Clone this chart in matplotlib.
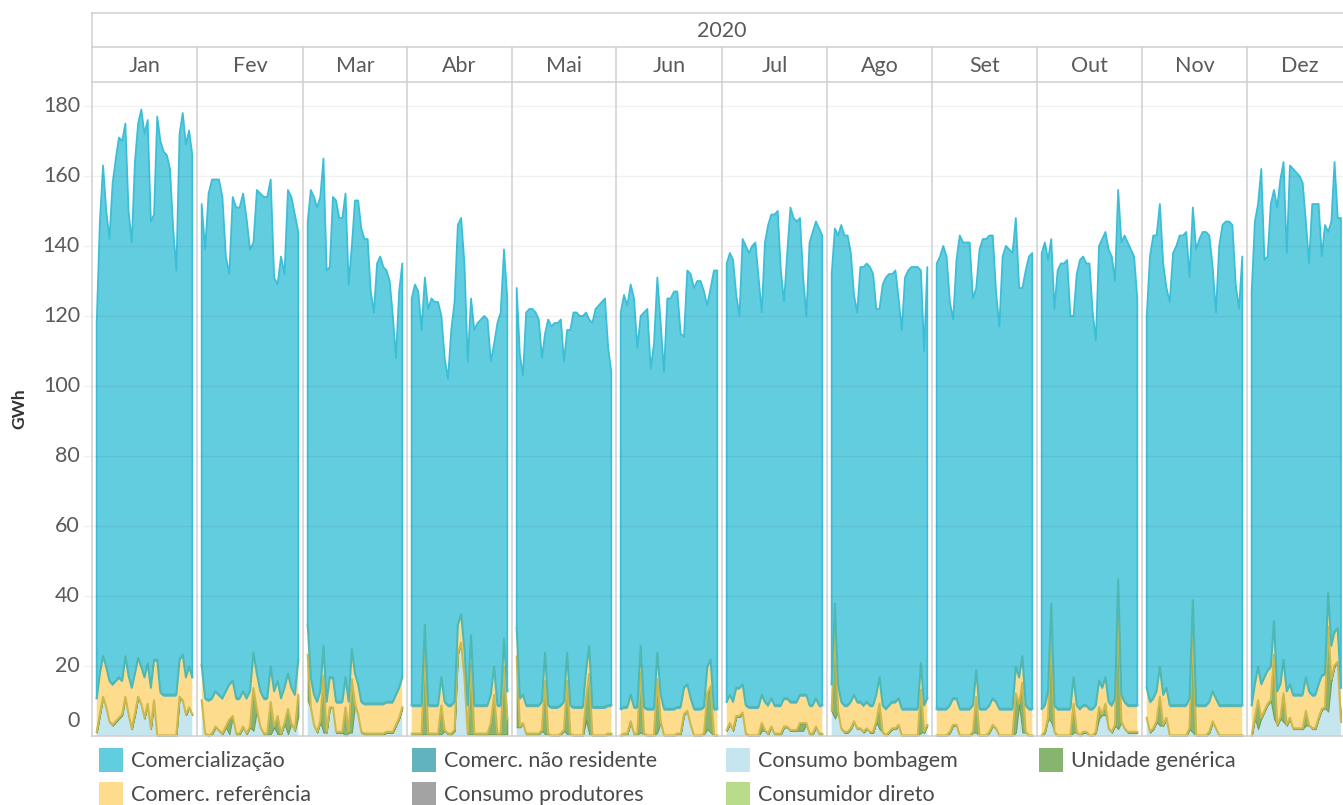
import matplotlib
matplotlib.use("Agg")
import matplotlib.pyplot as plt
from matplotlib.lines import Line2D
from matplotlib.patches import Rectangle
import numpy as np

plt.rcParams['font.family'] = ['Lato', 'DejaVu Sans']

# ---------------- data ----------------
year_label = "2020"
months = ["Jan", "Fev", "Mar", "Abr", "Mai", "Jun", "Jul", "Ago", "Set", "Out", "Nov", "Dez"]
days_in_month = [31, 29, 31, 30, 31, 30, 31, 31, 30, 31, 30, 31]
y_ticks = [0, 20, 40, 60, 80, 100, 120, 140, 160, 180]
y_label = "GWh"

series_names = ["Comercialização", "Comerc. referência", "Comerc. não residente",
                "Consumo produtores", "Consumo bombagem", "Consumidor direto",
                "Unidade genérica"]

# daily total consumption (top of stack), GWh
total = [
    [118,147,163,150,142,158,165,171,170,175,150,141,164,175,179,172,176,147,149,177,170,167,166,162,145,133,172,178,169,173,166],
    [152,139,155,159,159,159,154,137,132,154,151,151,155,148,139,141,156,155,154,154,159,131,129,137,132,156,154,149,144],
    [147,156,154,151,154,165,133,134,154,153,148,148,155,129,140,153,153,145,142,142,127,121,135,137,134,133,130,120,108,127,135],
    [125,129,127,116,131,122,125,124,124,120,108,102,116,124,146,148,135,107,125,116,118,119,120,119,107,112,118,121,139,125],
    [128,109,103,121,122,122,121,119,108,115,119,117,118,118,119,107,116,116,121,121,120,120,121,119,118,122,123,124,125,111,104],
    [121,126,123,129,125,111,120,121,122,105,112,131,118,104,125,125,127,127,115,114,133,132,128,130,130,127,123,128,133,133],
    [135,138,136,126,120,142,140,138,140,141,131,121,141,146,149,149,150,133,124,138,151,148,147,148,131,120,141,144,147,145,143],
    [132,145,143,146,143,143,138,126,121,134,134,135,134,132,122,122,129,131,132,132,133,125,116,131,133,134,134,134,133,110,134],
    [135,137,140,137,124,119,136,143,141,141,141,125,128,139,142,142,143,143,127,117,137,140,139,138,148,128,128,133,137,138],
    [138,141,136,142,122,133,135,135,136,120,120,132,136,137,135,135,121,113,140,142,144,139,137,130,156,141,143,141,139,137,125],
    [120,137,143,143,152,135,128,124,138,140,143,143,144,131,151,139,142,144,144,143,134,121,140,146,147,147,146,129,122,137],
    [127,147,152,162,136,137,152,156,151,159,164,138,163,162,161,160,158,147,135,152,152,152,137,146,144,147,164,148,148],
]

# Consumo bombagem (bottom layer)
bombagem = [
    [1,6,11,8,4,3,4,5,6,11,6,2,6,11,9,5,9,2,10,0,0,0,0,0,0,0,11,10,6,8,6],
    [10,0.5,0,0.5,2.5,1.5,0.5,2.5,0.5,5.5,0.5,0.5,2.5,0.5,2.5,1.5,7.5,2.5,0.5,0.5,0.5,2.5,0.5,0.5,3.5,0.5,3.5,1.5,5.5],
    [10,8,3,1,4,1,1,8,8,1,1,1,0,1,1,9,6,1,0.5,0.5,0.5,0.5,0.5,0.5,0.5,1,1,1,3,5,8],
    [0.5,0.5,0.5,0.5,0.5,0.5,0.5,0.5,0.5,0.5,1.5,0.5,0.5,1.5,23.5,26.5,16.5,0.5,0.5,0.5,0.5,0.5,0.5,0.5,0.5,0.5,0.5,0.5,0.5,0.5],
    [2.5,2.5,3.5,0.5,0.5,0.5,0.5,0.5,1.5,0.5,0.5,0,0,0,0.5,1.5,0.5,0.5,0,0,0,0,4.5,0.5,0,0,0,0,0,0.5,0.5],
    [0,0.5,0.5,4,0.5,0.5,1,0.5,0,0,0,1,4,0,0,0,0,0.5,0.5,6,7,3,0,0,0,0.5,2,1,0,0],
    [1.5,3.5,1.5,5.5,5.5,6.5,0.5,0,0,0,0,1.5,1.5,0.5,2.5,0.5,0.5,0.5,2.5,2.5,1.5,1.5,1.5,1.5,1.5,3.5,0.5,0.5,2.5,0.5,0.5],
    [7,5,7,2,1,1,2,4,2,2,1,2,1,1,4,2,1,0,1,2,2,3,0,0,0,0,0,0,1,1,3],
    [0,0,0,0,1,3,3,0,0,0,0,1,1,0,0,0,1,3,2,0,0,0,0,0,1,9,1,1,0,0],
    [0,1,5,4,1,0,0,0,0,0,1,1,0,1,1,0,0,1,5,6,6,2,1,3,2,4,2,1,1,1,1],
    [5,1,2,4,3,3,5,0,0,0,0,0,0,2,1,0,0,0,0,1,4,2,0,0,0,0,0,0,0,0],
    [0,5,2,5,7,9,10,5,3,5,4,3,5,2,2,2,2,3,3,2,2,5,7.5,8,7,16,20,21,4],
]

# Unidade genérica (spikes)
generica = [
    [0,0,0,0,0,0,0,0,0,0,0,0,0,0,0,0,0,0,0,0,0,0,0,0,0,0,0,0,0,0,0],
    [0,0,0,0,0,0,0,0,4,0,0,0,0,0,0,12,0,0,0,0,9,0,5,0,0,7,0,0,6],
    [13,0,0,0,0,16,0,0,0,0,0,0,8,0,15,0,0,0,0,0,0,0,0,0,0,0,0,0,0,0,0],
    [0,0,0,0,23,0,0,0,0,8,0,0,0,0,0,0,0,0,20,0,0,0,0,0,3,11,0,0,19,4],
    [20,0,0,0,0,0,0,0,0,15,0,0,0,0,0,0,15,0,0,0,0,0,6,17,0,0,0,0,0,0,0],
    [0,0,0,0,0,0,17,0,0,0,0,15,0,0,0,0,0,0,0,0,0,0,0,0,0,0,10,13,0,0],
    [0,0,0,0,0,0,0,0,0,0,0,2,0,0,0,0,0,0,0,0,0,0,0,2,2,0,0,0,0,0,0],
    [0,25,0,0,0,0,0,0,0,0,0,0,0,0,0,7,0,0,0,0,0,0,0,0,0,0,0,0,12,0,0],
    [0,0,0,0,0,0,0,0,0,0,0,0,10,0,0,0,0,0,0,0,0,0,0,0,11,0,14,0,0,0],
    [0,0,0,26,0,0,0,0,0,0,8,0,0,0,0,0,0,0,3,0,3,0,0,0,35,0,0,0,0,0,0],
    [0,0,0,0,8,0,0,0,0,0,0,0,0,0,29,0,0,0,0,0,0,0,0,0,0,0,0,0,0,0],
    [0,0,8,0,0,0,0,18,0,0,8,0,0,0,0,0,0,4,0,0,0,0,0,0,24,0,0,0,0],
]

# Comerc. referência (yellow band)
referencia = [
    [9,11,11,11,11,11,11,11,9,11,10.5,11,11,10.5,10,11,11,11,11,21,11.7,11,11,11,11,11,10,12.5,10,11,10],
    [9.5,9.5,9.5,9.5,9.5,9.5,9.5,9.5,9.5,9.5,9.5,9.5,9.5,9.5,9.5,9.5,9.5,9.5,9.5,9.5,9.5,9.5,9.5,9.5,9.5,9.5,9.5,9.5,9.5],
    [8,8,8,8,8,8,8,8,8,8,8,8,8,8,8,8,8,8,8,8,8,8,8,8,8,8,8,8,8,8,8],
    [7.5,7.5,7.5,7.5,7.5,7.5,7.5,7.5,7.5,7.5,7.5,7.5,7.5,7.5,7.5,7.5,7.5,7.5,7.5,7.5,7.5,7.5,7.5,7.5,7.5,7.5,7.5,7.5,7.5,7.5],
    [7.5,7.5,7.5,7.5,7.5,7.5,7.5,7.5,7.5,7.5,7.5,7.5,7.5,7.5,7.5,7.5,7.5,7.5,7.5,7.5,7.5,7.5,7.5,7.5,7.5,7.5,7.5,7.5,7.5,7.5,7.5],
    [7,7,7,7,7,7,7,7,7,7,7,7,7,7,7,7,7,7,7,7,7,7,7,7,7,7,7,7,7,7],
    [7.5,7.5,7.5,7.5,7.5,7.5,7.5,7.5,7.5,7.5,7.5,7.5,7.5,7.5,7.5,7.5,7.5,7.5,7.5,7.5,7.5,7.5,7.5,7.5,7.5,7.5,7.5,7.5,7.5,7.5,7.5],
    [7,7,7,7,7,7,7,7,7,7,7,7,7,7,7,7,7,7,7,7,7,7,7,7,7,7,7,7,7,7,7],
    [7,7,7,7,7,7,7,7,7,7,7,7,7,7,7,7,7,7,7,7,7,7,7,7,7,7,7,7,7,7],
    [7,7,7,7,7,7,7,7,7,7,7,7,7,7,7,7,7,7,7,7,7,7,7,7,7,7,7,7,7,7,7],
    [8,8,8,8,8,8,8,8,8,8,8,8,8,8,8,8,8,8,8,8,8,8,8,8,8,8,8,8,8,8],
    [8,9,9,9,9,9,9,9,9,9,9,9,9,9,9,9,9,9,9,9,9,9,9,9,9,9,9,9,9],
]

# thin layers, monthly typical daily value (GWh)
nao_residente_mes = [0.6, 0.6, 0.6, 0.6, 0.6, 0.6, 0.6, 0.6, 0.6, 0.6, 0.6, 0.6]
produtores_mes = [0.1, 0.1, 0.1, 0.1, 0.1, 0.1, 0.1, 0.1, 0.1, 0.1, 0.1, 0.1]
direto_mes = [0.1, 0.1, 0.1, 0.1, 0.1, 0.1, 0.1, 0.1, 0.1, 0.1, 0.1, 0.1]

# ---------------- style ----------------
colors = {
    "Comercialização": "#63cde0",
    "Comerc. referência": "#fddc8d",
    "Comerc. não residente": "#61b3bd",
    "Consumo produtores": "#a3a3a3",
    "Consumo bombagem": "#c6e6ef",
    "Consumidor direto": "#b8dc8a",
    "Unidade genérica": "#87b46f",
}
W, H = 1343, 805
fig = plt.figure(figsize=(W / 100, H / 100), dpi=100)


def fx(px):
    return px / W


def fy(py):
    return 1 - py / H


edges = [92, 197, 303, 407, 512, 616, 722, 827, 932, 1037, 1142, 1247, 1352]
Y0, Y1 = 736, 82
ppu = 3.5
ymax = (Y0 - Y1) / ppu
border = "#cfcfcf"
tick_col = "#5a5a5a"
FS = 15.5
FW = "normal"

for i in range(12):
    n = days_in_month[i]
    w = edges[i + 1] - edges[i]
    ax = fig.add_axes([fx(edges[i]), fy(Y0), w / W, (Y0 - Y1) / H])
    ax.set_axis_off()
    ax.patch.set_visible(False)
    m = 4.7 * (n - 1) / (w - 9.4)
    ax.set_xlim(-m, n - 1 + m)
    ax.set_ylim(0, ymax)

    tot = np.array(total[i], float)
    k = len(tot)
    x = np.arange(k)
    b = np.array(bombagem[i], float)
    g = np.array(generica[i], float)
    d = np.full(k, direto_mes[i])
    p = np.full(k, produtores_mes[i])
    r = np.array(referencia[i], float)
    nr = np.full(k, nao_residente_mes[i])

    s0 = np.zeros(k)
    s1 = s0 + b
    s2 = s1 + g
    s3 = s2 + d
    s4 = s3 + p
    s5 = s4 + r
    s6 = s5 + nr
    comerc = tot - s6
    s7 = s6 + comerc

    ax.fill_between(x, s0, s1, facecolor=colors["Consumo bombagem"], lw=0, zorder=1)
    ax.fill_between(x, s1, s2, facecolor=colors["Unidade genérica"], edgecolor="#6f9d58",
                    lw=0.8, zorder=2)
    ax.fill_between(x, s2, s3, facecolor=colors["Consumidor direto"], lw=0, zorder=2)
    ax.fill_between(x, s3, s4, facecolor=colors["Consumo produtores"], lw=0, zorder=2)
    ax.fill_between(x, s4, s5, facecolor=colors["Comerc. referência"], lw=0, zorder=3)
    ax.fill_between(x, s5, s6, facecolor=colors["Comerc. não residente"], lw=0, zorder=3)
    ax.fill_between(x, s6, s7, facecolor=colors["Comercialização"], lw=0, zorder=3)
    # boundary lines
    ax.plot(x, s4, color="#cdb84e", lw=1.5, zorder=4)
    ax.plot(x, s6, color="#4fb8b2", lw=1.5, zorder=5)
    xx = np.concatenate([[x[0]], x, [x[-1]]])
    yy = np.concatenate([[s6[0]], s7, [s6[-1]]])
    ax.plot(xx, yy, color="#3dbed7", lw=1.3, zorder=6)


def fline(x0, y0, x1, y1, color=border, lw=1.1, z=10):
    fig.add_artist(Line2D([fx(x0), fx(x1)], [fy(y0), fy(y1)], transform=fig.transFigure,
                          color=color, lw=lw, zorder=z))


# gridlines (faint, over the areas)
for v in y_ticks[1:]:
    py = Y0 - v * ppu
    fline(84, py, 1352, py, color=(0, 0, 0, 0.055), lw=1.0, z=8)

# frame / header
fline(92, 13, 1352, 13)
fline(92, 47, 1352, 47)
fline(92, 82, 1352, 82)
fline(92, 13, 92, Y0)
fline(92, Y0, 1352, Y0)
for e in edges[1:-1]:
    fline(e, 47, e, Y0)

fig.text(fx((edges[0] + edges[-1]) / 2), fy(31), year_label, ha="center", va="center",
         fontsize=FS, fontweight=FW, color=tick_col)
for i, mname in enumerate(months):
    fig.text(fx((edges[i] + edges[i + 1]) / 2), fy(66), mname, ha="center", va="center",
             fontsize=FS, fontweight=FW, color=tick_col)

# y tick labels
for v in y_ticks:
    py = Y0 - v * ppu
    if v == 0:
        py = 721
    fig.text(fx(80), fy(py), str(v), ha="right", va="center", fontsize=FS,
             fontweight=FW, color=tick_col)
fig.text(fx(19), fy(409), y_label, ha="center", va="center", rotation=90,
         fontsize=12.5, fontweight="bold", color="#333333")

# legend
legend_rows = [
    ["Comercialização", "Comerc. não residente", "Consumo bombagem", "Unidade genérica"],
    ["Comerc. referência", "Consumo produtores", "Consumidor direto"],
]
col_x = [99, 412, 726, 1039]
row_y = [748, 782]
for r, row in enumerate(legend_rows):
    for c, name in enumerate(row):
        fig.add_artist(Rectangle((fx(col_x[c]), fy(row_y[r] + 24)), 24 / W, 24 / H,
                                 transform=fig.transFigure, facecolor=colors[name],
                                 edgecolor="none"))
        fig.text(fx(col_x[c] + 32), fy(row_y[r] + 13), name, ha="left", va="center",
                 fontsize=FS, fontweight=FW, color="#4a4a4a")

fig.savefig("out.png", dpi=100)
